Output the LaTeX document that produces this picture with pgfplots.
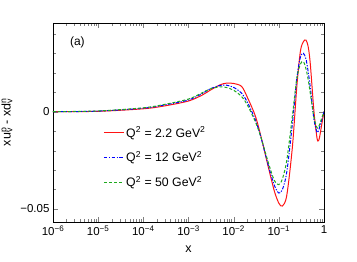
\documentclass[border=0pt]{standalone}
\usepackage{fontspec}
\setmainfont{Liberation Sans}
\usepackage{pgfplots}
\pgfplotsset{compat=1.18}
\definecolor{cred}{RGB}{255,20,20}
\definecolor{cblue}{RGB}{0,0,255}
\definecolor{cgreen}{RGB}{30,170,30}
\begin{document}
\begin{tikzpicture}
\begin{axis}[
  at={(0pt,0pt)}, anchor=south west,
  scale only axis, width=271pt, height=199pt,
  xmode=log, xmin=1e-6, xmax=1,
  ymin=-0.0567, ymax=0.0456,
  scaled y ticks=false,
  xtick={1e-6,1e-5,1e-4,1e-3,1e-2,1e-1,1},
  xticklabels={10\textsuperscript{−6},10\textsuperscript{−5},10\textsuperscript{−4},10\textsuperscript{−3},10\textsuperscript{−2},10\textsuperscript{−1},1},
  ytick={-0.05,0},
  yticklabels={−0.05,0},
  minor ytick={-0.04,-0.03,-0.02,-0.01,0.01,0.02,0.03,0.04},
  tick align=inside,
  major tick length=5pt, minor tick length=3pt,
  tick label style={font=\fontsize{11.5}{13}\selectfont},
  xlabel={x}, ylabel={xu\rlap{\textsuperscript{p}}\textsubscript{v} - xd\rlap{\textsuperscript{n}}\textsubscript{v}},
  label style={font=\fontsize{12.5}{14}\selectfont},
  xlabel style={yshift=-3pt},
  ylabel style={yshift=1pt},
  axis line style={line width=0.8pt},
  legend cell align=left,
  legend style={at={(0.185,0.49)}, anchor=north west, draw=none, fill=none, inner sep=0pt,
    font=\fontsize{12.3}{14}\selectfont, row sep=9pt},
  legend image code/.code={\draw[#1] (0cm,0cm) -- (0.7cm,0cm);},
  every axis plot/.append style={line width=1pt, smooth, tension=0.5},
]
\addplot[color=cred] coordinates {
(1e-6,0) (1e-5,0.0002) (1e-4,0.0015) (3e-4,0.003) (1e-3,0.0055) (2e-3,0.0085) (3e-3,0.0110) (5e-3,0.0138) (7e-3,0.0147) (1e-2,0.0145) (1.5e-2,0.0130) (2e-2,0.0075) (3e-2,-0.002) (4e-2,-0.0125) (6e-2,-0.0295) (8e-2,-0.041) (0.1,-0.0470) (0.12,-0.0485) (0.15,-0.043) (0.2,-0.018) (0.25,0.0128) (0.3,0.031) (0.35,0.0360) (0.4,0.0368) (0.45,0.033) (0.5,0.024) (0.6,0.0) (0.7,-0.0135) (0.75,-0.0150) (0.8,-0.013) (0.9,-0.006) (1,0)
};
\addlegendentry{Q\textsuperscript{2} = 2.2 GeV\textsuperscript{2}}
\addplot[color=cblue, draw=cblue, dash pattern=on 3.5pt off 1.5pt on 1.2pt off 1.5pt] coordinates {
(1e-6,0) (1e-5,0.0003) (1e-4,0.0018) (3e-4,0.0035) (1e-3,0.006) (2e-3,0.0093) (3e-3,0.0117) (5e-3,0.0135) (7e-3,0.0136) (1e-2,0.0125) (1.5e-2,0.0095) (2e-2,0.005) (3e-2,-0.004) (4e-2,-0.013) (6e-2,-0.0285) (8e-2,-0.038) (0.1,-0.0418) (0.12,-0.040) (0.15,-0.031) (0.2,-0.006) (0.25,0.017) (0.3,0.028) (0.35,0.0300) (0.4,0.027) (0.45,0.020) (0.5,0.012) (0.6,-0.004) (0.7,-0.0105) (0.75,-0.010) (0.8,-0.008) (0.9,-0.004) (1,0)
};
\addlegendentry{Q\textsuperscript{2} = 12 GeV\textsuperscript{2}}
\addplot[color=cgreen, dash pattern=on 3pt off 2pt] coordinates {
(1e-6,0) (1e-5,0.0004) (1e-4,0.002) (3e-4,0.0038) (1e-3,0.0065) (2e-3,0.0097) (3e-3,0.0117) (5e-3,0.0128) (7e-3,0.0124) (1e-2,0.0110) (1.5e-2,0.0078) (2e-2,0.0035) (3e-2,-0.005) (4e-2,-0.013) (6e-2,-0.027) (8e-2,-0.0355) (0.1,-0.0375) (0.12,-0.0345) (0.15,-0.025) (0.2,-0.002) (0.25,0.017) (0.3,0.0245) (0.35,0.0257) (0.4,0.022) (0.45,0.016) (0.5,0.009) (0.6,-0.003) (0.7,-0.0082) (0.75,-0.008) (0.8,-0.0065) (0.9,-0.003) (1,0)
};
\addlegendentry{Q\textsuperscript{2} = 50 GeV\textsuperscript{2}}
\node[anchor=west, font=\fontsize{12}{14}\selectfont] at (rel axis cs:0.05,0.90) {(a)};
\end{axis}
\pgfresetboundingbox
\path (-53pt,-40pt) rectangle (304pt,222pt);
\end{tikzpicture}
\end{document}
